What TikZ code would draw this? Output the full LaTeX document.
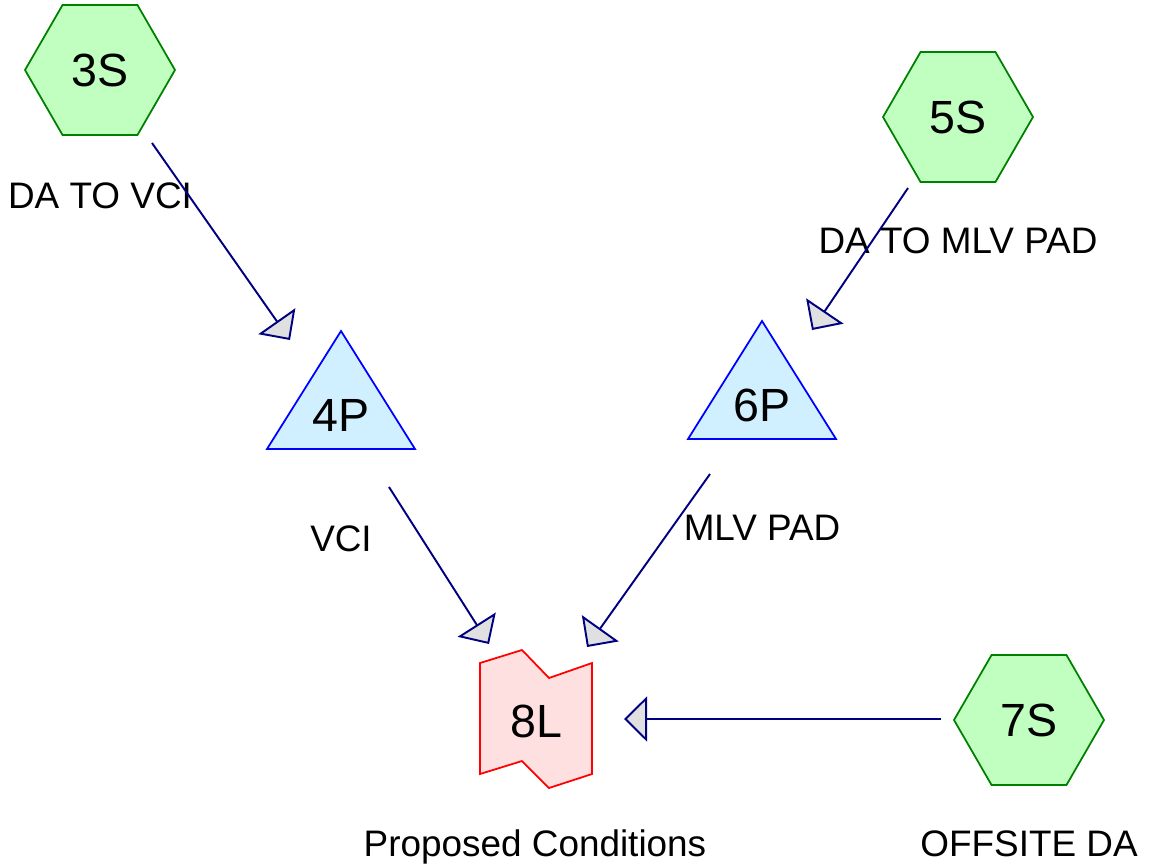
\documentclass[tikz,border=0pt]{standalone}
\usepackage{fontspec}
\setmainfont{Liberation Sans}
\usetikzlibrary{shapes.geometric,arrows.meta}

\definecolor{hexfill}{RGB}{192,255,192}
\definecolor{hexline}{RGB}{0,128,0}
\definecolor{pondfill}{RGB}{208,240,255}
\definecolor{linkfill}{RGB}{255,224,224}
\definecolor{tipfill}{RGB}{224,224,224}
\definecolor{navyline}{RGB}{0,0,128}

\begin{document}
\begin{tikzpicture}[x=0.02cm,y=-0.02cm,
  subarea/.style={regular polygon,regular polygon sides=6,minimum size=3cm,inner sep=0pt,
    draw=hexline,fill=hexfill,line width=1pt,font=\fontsize{26.5}{30}\selectfont},
  tag/.style={inner sep=0pt,font=\fontsize{26.5}{30}\selectfont},
  caption/.style={anchor=base,inner sep=0pt,font=\fontsize{21}{25}\selectfont},
  pondshape/.style={draw=blue,fill=pondfill,line width=1pt},
  linkshape/.style={draw=red,fill=linkfill,line width=1pt},
  flow/.style={draw=navyline,line width=1.1pt,-{Triangle[length=0.46cm,width=0.9cm,fill=tipfill]}}]

% Fix the page size
\useasboundingbox (0,0) rectangle (1149,867);

% Draw the subareas
\node[subarea] (s3) at (100,70) {3S};
\node[subarea] (s5) at (958,117) {5S};
\node[subarea] (s7) at (1029,720) {7S};

% Draw the ponds
\foreach \name/\x/\y/\txt in {p4/341/415/4P,p6/762/405/6P}{
  \filldraw[pondshape] (\x,\y-84) -- (\x+74,\y+34) -- (\x-74,\y+34) -- cycle;
  \node[tag] (\name) at (\x,\y) {\txt};
}

% Draw the link
\filldraw[linkshape] (480,663) -- (522,650) -- (549,678) -- (592,663) -- (592,774)
  -- (549,788) -- (522,761) -- (480,774) -- cycle;
\node[tag] (l8) at (536,721) {8L};

% Labels under the elements
\node[caption] (c3) at (100,208) {DA TO VCI};
\node[caption] (c5) at (958,253) {DA TO MLV PAD};
\node[caption] (c4) at (341,551) {VCI};
\node[caption] (c6) at (762,540) {MLV PAD};
\node[caption] (c8) at (535,856) {Proposed Conditions};
\node[caption] (c7) at (1029,856) {OFFSITE DA};

% Draw the connectors
\draw[flow] ([shift={(52,73)}]s3.center) -- ([shift={(-51,-75)}]p4.center);
\draw[flow] ([shift={(-50,71)}]s5.center) -- ([shift={(50,-75)}]p6.center);
\draw[flow] ([shift={(48,72)}]p4.center) -- ([shift={(-47,-77)}]l8.center);
\draw[flow] ([shift={(-52,69)}]p6.center) -- ([shift={(51,-74)}]l8.center);
\draw[flow] ([shift={(-88,-1)}]s7.center) -- ([shift={(88,-2)}]l8.center);

\end{tikzpicture}
\end{document}
